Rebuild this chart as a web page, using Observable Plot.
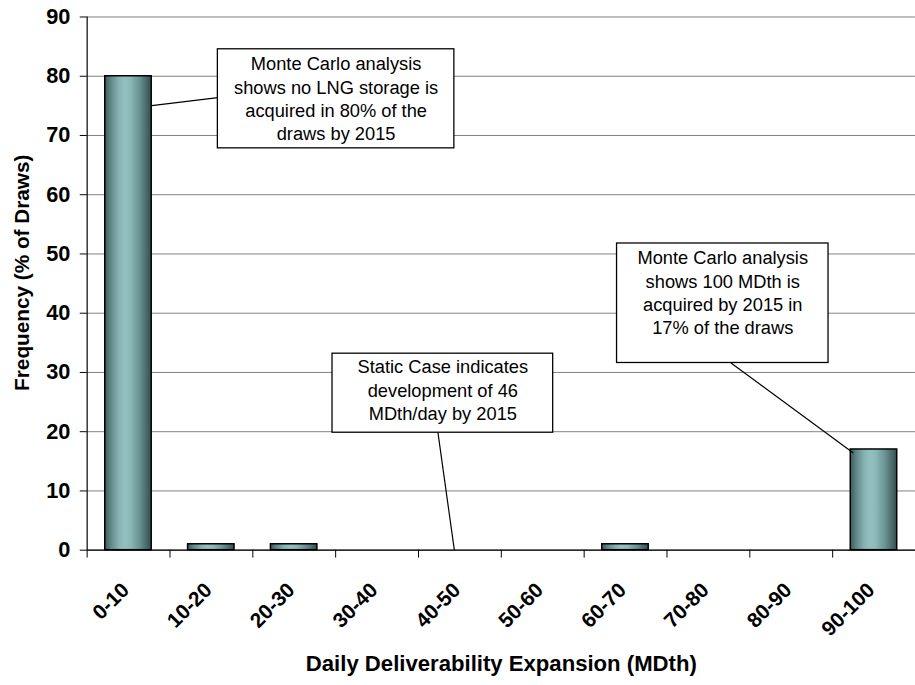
<!DOCTYPE html>
<html><head><meta charset="utf-8">
<script src="https://cdn.jsdelivr.net/npm/d3@7"></script>
<script src="https://cdn.jsdelivr.net/npm/@observablehq/plot@0.6"></script>
<style>html,body{margin:0;padding:0;background:#fff;overflow:hidden;width:915px;height:685px}svg{display:block}</style>
</head><body><div id="chart"></div>
<script>
const categories = ["0-10","10-20","20-30","30-40","40-50","50-60","60-70","70-80","80-90","90-100"];
const frequency = [80, 1, 1, 0, 0, 0, 1, 0, 0, 17];
const yTicks = [0, 10, 20, 30, 40, 50, 60, 70, 80, 90];
const binEdges = [0, 1, 2, 3, 4, 5, 6, 7, 8, 9, 10];
const yTitle = "Frequency (% of Draws)";
const xTitle = "Daily Deliverability Expansion (MDth)";

const noteText = [
  "Monte Carlo analysis\nshows no LNG storage is\nacquired in 80% of the\ndraws by 2015",
  "Monte Carlo analysis\nshows 100 MDth is\nacquired by 2015 in\n17% of the draws",
  "Static Case indicates\ndevelopment of 46\nMDth/day by 2015"
];
const noteBoxX1 = [1.578, 6.397, 2.962];
const noteBoxX2 = [4.433, 8.950, 5.626];
const noteBoxY1 = [67.83, 31.6, 19.83];
const noteBoxY2 = [84.55, 51.77, 33.17];
const noteTextY = [76.38, 43.6, 27.16];
const leaderX1 = [0.78, 9.25, 4.433];
const leaderY1 = [75.05, 16.4, 0];
const leaderX2 = [1.578, 7.773, 4.235];
const leaderY2 = [76.4, 31.6, 19.83];

const bars = categories.map((c, i) => ({i, category: c, value: frequency[i]})).filter(d => d.value > 0);
const notes = noteText.map((t, k) => ({
  text: t, x1: noteBoxX1[k], x2: noteBoxX2[k], y1: noteBoxY1[k], y2: noteBoxY2[k], ty: noteTextY[k],
  lx1: leaderX1[k], ly1: leaderY1[k], lx2: leaderX2[k], ly2: leaderY2[k]
}));

const font = "'Liberation Sans', Arial, Helvetica, sans-serif";
const plot = Plot.plot({
  width: 926, height: 685,
  marginLeft: 87.7, marginRight: 0, marginTop: 16.7, marginBottom: 128.7,
  x: {type: "linear", domain: [0, categories.length]},
  y: {domain: [0, 90]},
  style: {fontFamily: font, background: "#fff", color: "#000"},
  marks: [
    Plot.gridY(yTicks, {stroke: "#808080", strokeOpacity: 1}),
    Plot.rectY(bars, {x1: d => d.i, x2: d => d.i + 1, y1: 0, y2: "value", insetLeft: 18.3, insetRight: 18.5,
      fill: "url(#barGrad)", stroke: "#000", strokeWidth: 1.5}),
    Plot.ruleY([0], {stroke: "#000", strokeWidth: 1.2}),
    Plot.ruleX([0], {stroke: "#000", strokeWidth: 1.2}),
    Plot.axisY(yTicks, {tickSize: 7, tickPadding: 10, fontSize: 22, fontWeight: "bold", label: null, stroke: "#000"}),
    Plot.axisX(binEdges, {tickSize: 8, tickFormat: () => "", label: null, stroke: "#000"}),
    Plot.text(categories, {x: (d, i) => i + 0.5, y: 0, text: d => d, rotate: -45, textAnchor: "end", lineAnchor: "middle",
      dx: -3, dy: 37, fontSize: 21, fontWeight: "bold", fill: "#000"}),
    Plot.text([yTitle], {frameAnchor: "left", text: d => d, textAnchor: "middle", lineAnchor: "middle", rotate: -90,
      dx: -65.9, dy: -11, fontSize: 21, fontWeight: "bold", fill: "#000"}),
    Plot.text([xTitle], {frameAnchor: "bottom", text: d => d, textAnchor: "middle", lineAnchor: "middle",
      dy: 114.7, fontSize: 22.4, fontWeight: "bold", fill: "#000"}),
    Plot.link(notes, {x1: "lx1", y1: "ly1", x2: "lx2", y2: "ly2", stroke: "#000", strokeWidth: 1.2}),
    Plot.rect(notes, {x1: "x1", x2: "x2", y1: "y1", y2: "y2", fill: "#fff", stroke: "#000", strokeWidth: 1.3}),
    Plot.text(notes, {x: d => (d.x1 + d.x2) / 2, y: "ty", text: "text", fontSize: 18.5, lineHeight: 1.27,
      lineAnchor: "middle", textAnchor: "middle", fill: "#000"})
  ]
});

const defs = d3.select(plot).insert("defs", ":first-child");
const grad = defs.append("linearGradient").attr("id", "barGrad")
  .attr("x1", "0").attr("x2", "1").attr("y1", "0").attr("y2", "0");
[["0%", "#3b5a5a"], ["12%", "#5e8585"], ["30%", "#86b2b2"], ["42%", "#92bfbf"], ["55%", "#8cb8b8"],
 ["75%", "#6a9292"], ["100%", "#334f4f"]].forEach(([o, c]) => grad.append("stop").attr("offset", o).attr("stop-color", c));

document.getElementById("chart").appendChild(plot);
</script>
</body></html>
